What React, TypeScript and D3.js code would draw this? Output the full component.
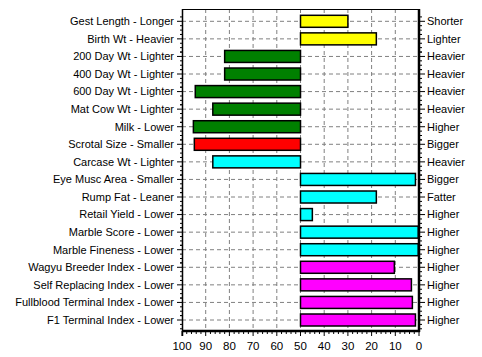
import React from "react";
import * as d3 from "d3";

const categories = [
  "Gest Length - Longer",
  "Birth Wt - Heavier",
  "200 Day Wt - Lighter",
  "400 Day Wt - Lighter",
  "600 Day Wt - Lighter",
  "Mat Cow Wt - Lighter",
  "Milk - Lower",
  "Scrotal Size - Smaller",
  "Carcase Wt - Lighter",
  "Eye Musc Area - Smaller",
  "Rump Fat - Leaner",
  "Retail Yield - Lower",
  "Marble Score - Lower",
  "Marble Fineness - Lower",
  "Wagyu Breeder Index - Lower",
  "Self Replacing Index - Lower",
  "Fullblood Terminal Index - Lower",
  "F1 Terminal Index - Lower",
];
const rightLabels = [
  "Shorter", "Lighter", "Heavier", "Heavier", "Heavier", "Heavier", "Higher", "Bigger", "Heavier",
  "Bigger", "Fatter", "Higher", "Higher", "Higher", "Higher", "Higher", "Higher", "Higher",
];
const values = [30, 18, 82, 82, 94.4, 87, 95.2, 94.8, 87, 1.5, 18, 45, 0.3, 0.3, 10.4, 3.2, 2.8, 1.5];
const colors = [
  "#FFFF00", "#FFFF00", "#008000", "#008000", "#008000", "#008000", "#008000", "#FF0000", "#00FFFF",
  "#00FFFF", "#00FFFF", "#00FFFF", "#00FFFF", "#00FFFF", "#FF00FF", "#FF00FF", "#FF00FF", "#FF00FF",
];
const xTicks = [100, 90, 80, 70, 60, 50, 40, 30, 20, 10, 0];
const baseValue = 50;

export default function App() {
  const W = 482, H = 357;
  const left = 182, right = 419, top = 9, bottom = 331;
  const x = d3.scaleLinear().domain([100, 0]).range([left, right]);
  const y = d3.scalePoint<string>().domain(categories).range([21.3, 320]);
  const step = y.step();
  const barH = 12;
  const font = "Arial, 'Liberation Sans', sans-serif";
  const fs = 11;
  const minorX = d3.range(0, 101, 2).filter((v) => v % 10 !== 0);
  const minorY: number[] = [];
  categories.forEach((c) => {
    for (let k = -1; k <= 3; k++) {
      if (k === 0) continue;
      const v = (y(c) as number) + (k * step) / 4;
      if (v > top && v < bottom) minorY.push(v);
    }
  });
  return (
    <svg width={W} height={H} style={{ position: "absolute", left: 0, top: 0 }}>
      <rect x={0} y={0} width={W} height={H} fill="#fff" />
      {xTicks.filter((t) => t !== 100 && t !== 0).map((t) => (
        <line key={"gx" + t} x1={x(t)} x2={x(t)} y1={top} y2={bottom} stroke="#808080" strokeDasharray="4,3" strokeWidth={1} />
      ))}
      {categories.map((c) => (
        <line key={"gy" + c} x1={left} x2={right} y1={(y(c) as number)} y2={(y(c) as number)} stroke="#808080" strokeDasharray="4,3" strokeWidth={1} />
      ))}
      {categories.map((c, i) => {
        const x0 = x(baseValue);
        const x1 = x(values[i]);
        const bx = Math.min(x0, x1);
        const bw = Math.abs(x1 - x0);
        return (
          <rect key={"b" + c} x={bx} y={(y(c) as number) - barH / 2} width={bw} height={barH}
            fill={colors[i]} stroke="#000" strokeWidth={1.5} />
        );
      })}
      <line x1={left} x2={right} y1={top + 0.5} y2={top + 0.5} stroke="#000" strokeWidth={1} />
      <line x1={left + 0.5} x2={left + 0.5} y1={top} y2={bottom + 5} stroke="#000" strokeWidth={1.5} />
      <line x1={right} x2={right} y1={top} y2={bottom + 1} stroke="#000" strokeWidth={2.5} />
      <line x1={left} x2={right + 1} y1={bottom} y2={bottom} stroke="#000" strokeWidth={2.5} />
      {xTicks.map((t) => (
        <g key={"xt" + t}>
          <line x1={x(t)} x2={x(t)} y1={bottom} y2={bottom + 5} stroke="#000" strokeWidth={1} />
          <text x={x(t)} y={350} textAnchor="middle" fontFamily={font} fontSize={fs + 0.5} fill="#000">{t}</text>
        </g>
      ))}
      {minorX.map((t) => (
        <line key={"mx" + t} x1={x(t)} x2={x(t)} y1={bottom} y2={bottom + 3} stroke="#000" strokeWidth={1} />
      ))}
      {categories.map((c, i) => (
        <g key={"yt" + c}>
          <line x1={left - 5} x2={left} y1={(y(c) as number)} y2={(y(c) as number)} stroke="#000" strokeWidth={1} />
          <line x1={right} x2={right + 6} y1={(y(c) as number)} y2={(y(c) as number)} stroke="#000" strokeWidth={1} />
          <text x={left - 8} y={(y(c) as number)} dy="0.35em" textAnchor="end" fontFamily={font} fontSize={fs} fill="#000">{c}</text>
          <text x={right + 8} y={(y(c) as number)} dy="0.35em" textAnchor="start" fontFamily={font} fontSize={fs} fill="#000">{rightLabels[i]}</text>
        </g>
      ))}
      {minorY.map((v, i) => (
        <g key={"my" + i}>
          <line x1={left - 2} x2={left} y1={v} y2={v} stroke="#000" strokeWidth={1} />
          <line x1={right} x2={right + 3} y1={v} y2={v} stroke="#000" strokeWidth={1} />
        </g>
      ))}
    </svg>
  );
}
